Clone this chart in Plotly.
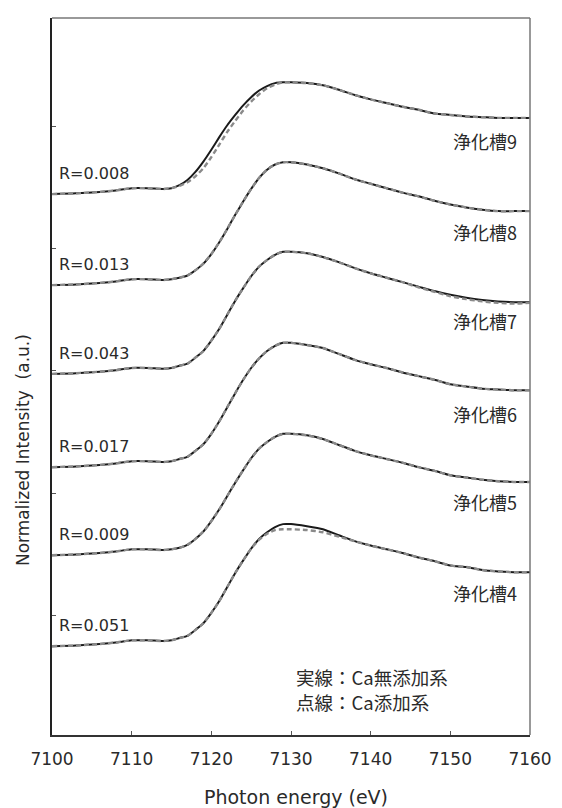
import plotly.graph_objects as go

# Photon energy grid (eV)
energy = [7100, 7103, 7106, 7108, 7110, 7112, 7114, 7115, 7116, 7117, 7118, 7119,
          7120, 7121, 7122, 7123, 7124, 7125, 7126, 7127, 7128, 7129, 7130, 7132,
          7134, 7136, 7138, 7140, 7142, 7144, 7146, 7148, 7150, 7152, 7154, 7156,
          7158, 7160]

samples = ["浄化槽9", "浄化槽8", "浄化槽7", "浄化槽6", "浄化槽5", "浄化槽4"]
r_values = ["R=0.008", "R=0.013", "R=0.043", "R=0.017", "R=0.009", "R=0.051"]
offsets = [7.31, 6.08, 4.88, 3.62, 2.43, 1.20]

# solid: Ca無添加系, dashed: Ca添加系 (normalized intensity, without offset)
solid_9 = [0, 0.01, 0.03, 0.05, 0.08, 0.08, 0.07, 0.08, 0.12, 0.19, 0.30, 0.44, 0.60, 0.77, 0.93, 1.07,
           1.20, 1.31, 1.40, 1.46, 1.50, 1.51, 1.51, 1.50, 1.47, 1.41, 1.34, 1.28, 1.23, 1.18, 1.14, 1.09,
           1.07, 1.05, 1.04, 1.03, 1.03, 1.03]
dash_9 = [0, 0.01, 0.03, 0.05, 0.08, 0.08, 0.07, 0.08, 0.11, 0.16, 0.24, 0.35, 0.50, 0.67, 0.84, 0.99,
          1.13, 1.25, 1.35, 1.43, 1.48, 1.51, 1.51, 1.50, 1.47, 1.41, 1.34, 1.28, 1.23, 1.18, 1.14, 1.09,
          1.07, 1.05, 1.04, 1.03, 1.03, 1.03]
solid_8 = [0, 0.01, 0.03, 0.05, 0.08, 0.08, 0.07, 0.08, 0.10, 0.13, 0.20, 0.29, 0.42, 0.58, 0.76, 0.95,
           1.13, 1.30, 1.45, 1.56, 1.63, 1.66, 1.66, 1.63, 1.58, 1.51, 1.43, 1.37, 1.31, 1.25, 1.20, 1.14,
           1.09, 1.05, 1.02, 1.00, 1.00, 1.00]
dash_8 = [0, 0.01, 0.03, 0.05, 0.08, 0.08, 0.07, 0.08, 0.10, 0.13, 0.20, 0.29, 0.42, 0.58, 0.76, 0.95,
          1.13, 1.30, 1.45, 1.56, 1.63, 1.66, 1.66, 1.63, 1.58, 1.51, 1.43, 1.37, 1.31, 1.25, 1.20, 1.14,
          1.09, 1.05, 1.02, 1.00, 1.00, 1.00]
solid_7 = [0, 0.01, 0.03, 0.05, 0.08, 0.08, 0.07, 0.08, 0.11, 0.14, 0.22, 0.31, 0.45, 0.61, 0.80, 0.99,
           1.16, 1.32, 1.45, 1.54, 1.61, 1.65, 1.65, 1.63, 1.58, 1.51, 1.43, 1.36, 1.30, 1.24, 1.18, 1.12,
           1.07, 1.03, 1.00, 0.98, 0.97, 0.97]
dash_7 = [0, 0.01, 0.03, 0.05, 0.08, 0.08, 0.07, 0.08, 0.11, 0.14, 0.22, 0.31, 0.45, 0.61, 0.80, 0.99,
          1.16, 1.32, 1.45, 1.54, 1.61, 1.65, 1.65, 1.63, 1.58, 1.51, 1.43, 1.36, 1.30, 1.24, 1.17, 1.11,
          1.05, 1.01, 0.98, 0.96, 0.95, 0.96]
solid_6 = [0, 0.01, 0.03, 0.05, 0.08, 0.08, 0.07, 0.08, 0.11, 0.14, 0.22, 0.31, 0.45, 0.62, 0.81, 1.00,
           1.18, 1.34, 1.47, 1.57, 1.64, 1.68, 1.68, 1.65, 1.61, 1.53, 1.45, 1.39, 1.34, 1.28, 1.23, 1.18,
           1.12, 1.09, 1.06, 1.05, 1.04, 1.04]
dash_6 = [0, 0.01, 0.03, 0.05, 0.08, 0.08, 0.07, 0.08, 0.11, 0.14, 0.22, 0.31, 0.45, 0.62, 0.81, 1.00,
          1.18, 1.34, 1.47, 1.57, 1.64, 1.68, 1.68, 1.65, 1.61, 1.53, 1.45, 1.39, 1.34, 1.28, 1.23, 1.18,
          1.12, 1.09, 1.06, 1.05, 1.04, 1.04]
solid_5 = [0, 0.01, 0.03, 0.05, 0.08, 0.08, 0.07, 0.08, 0.10, 0.14, 0.22, 0.32, 0.46, 0.62, 0.80, 0.98,
           1.15, 1.31, 1.44, 1.53, 1.60, 1.64, 1.64, 1.62, 1.57, 1.49, 1.41, 1.35, 1.30, 1.25, 1.19, 1.14,
           1.08, 1.05, 1.02, 1.00, 0.99, 0.99]
dash_5 = [0, 0.01, 0.03, 0.05, 0.08, 0.08, 0.07, 0.08, 0.10, 0.14, 0.22, 0.32, 0.46, 0.62, 0.80, 0.98,
          1.15, 1.31, 1.44, 1.53, 1.60, 1.64, 1.64, 1.62, 1.57, 1.49, 1.41, 1.35, 1.30, 1.25, 1.19, 1.14,
          1.08, 1.05, 1.02, 1.00, 0.99, 0.99]
solid_4 = [0, 0.01, 0.03, 0.05, 0.08, 0.08, 0.07, 0.08, 0.11, 0.14, 0.22, 0.31, 0.45, 0.61, 0.80, 0.99,
           1.16, 1.32, 1.45, 1.54, 1.61, 1.65, 1.65, 1.62, 1.58, 1.50, 1.42, 1.36, 1.31, 1.26, 1.20, 1.15,
           1.09, 1.07, 1.03, 1.01, 1.00, 1.00]
dash_4 = [0, 0.01, 0.03, 0.05, 0.08, 0.08, 0.07, 0.08, 0.11, 0.14, 0.22, 0.31, 0.45, 0.61, 0.80, 0.99,
          1.16, 1.32, 1.44, 1.52, 1.57, 1.58, 1.58, 1.57, 1.54, 1.48, 1.42, 1.36, 1.31, 1.26, 1.20, 1.15,
          1.09, 1.07, 1.03, 1.01, 1.00, 1.00]

solids = [solid_9, solid_8, solid_7, solid_6, solid_5, solid_4]
dashes = [dash_9, dash_8, dash_7, dash_6, dash_5, dash_4]

x_ticks = [7100, 7110, 7120, 7130, 7140, 7150, 7160]

FONT = "DejaVu Sans, Noto Sans CJK JP, sans-serif"
JFONT = "Noto Sans CJK JP, sans-serif"
TXT = "#2a2a2a"

fig = go.Figure()
for name, off, s, d in zip(samples, offsets, solids, dashes):
    fig.add_trace(go.Scatter(x=energy, y=[v + off for v in s], mode="lines",
                             line=dict(color="#1a1a1a", width=2, shape="spline", smoothing=0.6),
                             name=name + " 実線", showlegend=False, hoverinfo="skip"))
    fig.add_trace(go.Scatter(x=energy, y=[v + off for v in d], mode="lines",
                             line=dict(color="#8a8a8a", width=2.4, dash="5px,3px", shape="spline", smoothing=0.6),
                             name=name + " 点線", showlegend=False, hoverinfo="skip"))

annotations = []
for name, r, off in zip(samples, r_values, offsets):
    annotations.append(dict(x=7100.6, y=off + 0.28, text=r, showarrow=False, xanchor="left",
                            yanchor="middle", font=dict(family=FONT, size=16, color=TXT)))
    annotations.append(dict(x=7158.6, y=off + 0.72, text=name, showarrow=False, xanchor="right",
                            yanchor="middle", font=dict(family=JFONT, size=18, color=TXT)))

annotations.append(dict(x=7130.4, y=0.79, text="実線：Ca無添加系", showarrow=False, xanchor="left",
                        yanchor="middle", font=dict(family=JFONT, size=18.5, color=TXT)))
annotations.append(dict(x=7130.4, y=0.44, text="点線：Ca添加系", showarrow=False, xanchor="left",
                        yanchor="middle", font=dict(family=JFONT, size=18.5, color=TXT)))
annotations.append(dict(xref="paper", yref="paper", x=0.51, y=-0.086, text="Photon energy (eV)",
                        showarrow=False, xanchor="center", yanchor="middle",
                        font=dict(family=FONT, size=19, color=TXT)))
annotations.append(dict(xref="paper", yref="paper", x=-0.062, y=0.398, text="Normalized Intensity  (a.u.)",
                        showarrow=False, xanchor="center", yanchor="middle", textangle=-90,
                        font=dict(family=FONT, size=17, color=TXT)))

# The page body adds an 8px offset, so the figure is 8px smaller than the window.
fig.update_layout(
    width=554, height=800,
    margin=dict(l=44, r=22, t=10, b=73),
    paper_bgcolor="white", plot_bgcolor="white",
    annotations=annotations,
    shapes=[
        dict(type="line", xref="paper", yref="paper", x0=0, x1=1, y0=1, y1=1,
             line=dict(color="#777", width=1.5)),
        dict(type="line", xref="paper", yref="paper", x0=1, x1=1, y0=0, y1=1,
             line=dict(color="#777", width=1.5)),
    ],
)
fig.update_xaxes(range=[7100, 7160], tickvals=x_ticks, ticktext=[str(t) for t in x_ticks],
                 ticks="inside", ticklen=4, tickcolor="#555", showline=True, linecolor="#333",
                 linewidth=2, showgrid=False, zeroline=False, ticklabelstandoff=8,
                 tickfont=dict(family=FONT, size=17, color=TXT))
fig.update_yaxes(range=[0, 9.69], tickvals=[1.62, 3.27, 4.92, 6.57, 8.22], showticklabels=False,
                 ticks="inside", ticklen=4, tickcolor="#555", showline=True, linecolor="#222",
                 linewidth=2, showgrid=False, zeroline=False)

fig.write_html("out.html")
